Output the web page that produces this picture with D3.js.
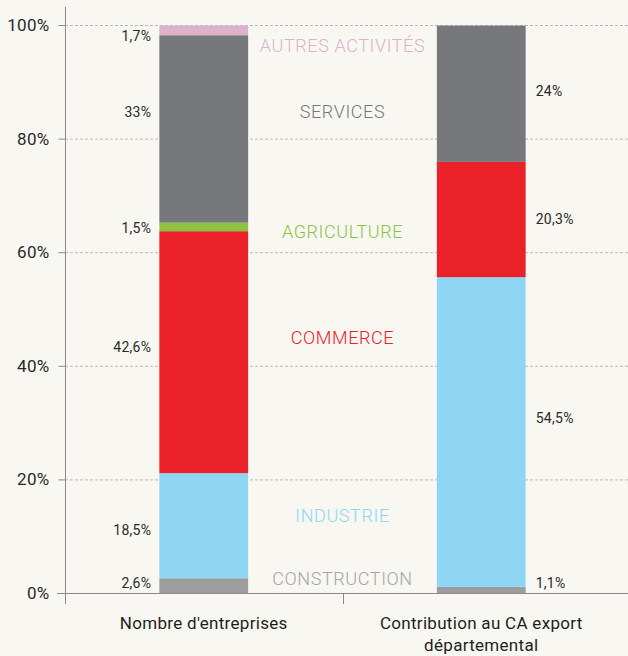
<!DOCTYPE html>
<html>
<head>
<meta charset="utf-8">
<script src="https://cdn.jsdelivr.net/npm/d3@7"></script>
<style>
  html, body { margin: 0; padding: 0; background: #f8f7f1; }
  svg { display: block; font-family: Roboto, "Noto Sans", sans-serif; }
</style>
</head>
<body>
<div id="chart"></div>
<script>
// categories of the x axis (second one spans two lines)
var columns = ["Nombre d'entreprises", "Contribution au CA export départemental"];
var columnLines = [["Nombre d'entreprises"], ["Contribution au CA export", "départemental"]];

// sectors, stacked from bottom to top
var sectors = ["CONSTRUCTION", "INDUSTRIE", "COMMERCE", "AGRICULTURE", "SERVICES", "AUTRES ACTIVITÉS"];
var sectorColors = ["#9d9d9f", "#8fd6f4", "#ea2128", "#8cc43f", "#77787c", "#ddb2cd"];
var labelColors = ["#a5a5a7", "#8fd6f4", "#ea2128", "#8cc43f", "#77787c", "#ddb2cd"];

// share (%) per sector, one value per column
var entreprises = [2.6, 18.5, 42.6, 1.5, 33, 1.7];
var exportCA = [1.1, 54.5, 20.3, 0, 24, 0];

var yTicks = [0, 20, 40, 60, 80, 100];

var width = 628, height = 656;
var margin = {left: 65, right: 8, top: 25, bottom: 63};

var svg = d3.select("#chart").append("svg")
    .attr("width", width)
    .attr("height", height);

svg.append("rect").attr("width", width).attr("height", height).attr("fill", "#f8f7f1");

var x = d3.scaleBand()
    .domain(columns)
    .range([margin.left, width - margin.right])
    .paddingInner(0.68)
    .paddingOuter(0.34);

var y = d3.scaleLinear()
    .domain([0, 100])
    .range([height - margin.bottom, margin.top]);

// one row per column, keyed by sector, for d3.stack
var table = columns.map(function(c, k) {
    var o = {column: c};
    sectors.forEach(function(s, i) { o[s] = (k === 0 ? entreprises : exportCA)[i]; });
    return o;
});
var series = d3.stack().keys(sectors)(table);

var midX = (x(columns[0]) + x.bandwidth() + x(columns[1])) / 2;

// gridlines
svg.append("g")
    .selectAll("line")
    .data(yTicks.filter(function(d) { return d > 0; }))
    .enter().append("line")
    .attr("x1", margin.left)
    .attr("x2", width)
    .attr("y1", function(d) { return y(d) + 0.5; })
    .attr("y2", function(d) { return y(d) + 0.5; })
    .attr("stroke", "#b9b9b9")
    .attr("stroke-dasharray", "3,2");

// baseline
svg.append("line")
    .attr("x1", margin.left - 8).attr("x2", width)
    .attr("y1", y(0) + 0.5).attr("y2", y(0) + 0.5)
    .attr("stroke", "#8a8a8a");

// y axis
var yAxis = svg.append("g")
    .attr("transform", "translate(" + (margin.left + 0.5) + ",0)")
    .call(d3.axisLeft(y).tickValues(yTicks).tickSize(7).tickPadding(9)
        .tickFormat(function(d) { return d + "%"; }));
yAxis.select(".domain").remove();
yAxis.selectAll(".tick line").attr("stroke", "#8a8a8a");
yAxis.selectAll("text")
    .attr("fill", "#2a2a2a")
    .style("font-size", "17px")
    .style("letter-spacing", "0.3px")
    .style("font-family", "Roboto, sans-serif");
yAxis.append("line")
    .attr("y1", 7).attr("y2", y(0) + 11)
    .attr("stroke", "#8a8a8a");

// middle tick on the x axis
svg.append("line")
    .attr("x1", Math.round(midX) + 0.5).attr("x2", Math.round(midX) + 0.5)
    .attr("y1", y(0)).attr("y2", y(0) + 11)
    .attr("stroke", "#8a8a8a");

// bars
svg.append("g")
    .selectAll("g")
    .data(series)
    .enter().append("g")
    .attr("fill", function(d, i) { return sectorColors[i]; })
    .selectAll("rect")
    .data(function(d) { return d; })
    .enter().append("rect")
    .attr("x", function(d) { return x(d.data.column); })
    .attr("width", x.bandwidth())
    .attr("y", function(d) { return y(d[1]); })
    .attr("height", function(d) { return y(d[0]) - y(d[1]); });

// value labels
var valueNudge = [[-3, 5], [4, -14], [-5, 0], [1, 0], [-17, -3], [6, 0]];
function fmt(v) { return String(v).replace(".", ",") + "%"; }

series.forEach(function(s, i) {
    s.forEach(function(d, j) {
        if (d[1] - d[0] <= 0) return;
        var cy = (y(d[0]) + y(d[1])) / 2 + valueNudge[i][j];
        cy = Math.min(cy, y(0) - 10);
        var left = j === 0;
        svg.append("text")
            .attr("x", left ? x(d.data.column) - 8 : x(d.data.column) + x.bandwidth() + 10)
            .attr("y", cy)
            .attr("dy", "0.35em")
            .attr("text-anchor", left ? "end" : "start")
            .attr("fill", "#2a2a2a")
            .style("font-size", "14px")
            .style("letter-spacing", "0.3px")
            .text(fmt(d.data[s.key]));
    });
});

// sector names, between the two bars
var nameNudge = [-7, -10, -14, 5, -17, 15];
series.forEach(function(s, i) {
    var d = s[0];
    var cy = (y(d[0]) + y(d[1])) / 2 + nameNudge[i];
    svg.append("text")
        .attr("x", midX)
        .attr("y", cy)
        .attr("dy", "0.35em")
        .attr("text-anchor", "middle")
        .attr("fill", labelColors[i])
        .style("font-size", "18px")
        .style("font-weight", 300)
        .style("letter-spacing", "0.6px")
        .text(s.key);
});

// column labels
columnLines.forEach(function(lines, i) {
    var cx = x(columns[i]) + x.bandwidth() / 2;
    var t = svg.append("text")
        .attr("x", cx)
        .attr("y", 629)
        .attr("text-anchor", "middle")
        .attr("fill", "#1e1e1e")
        .style("font-size", "17px")
        .style("letter-spacing", "0.3px");
    lines.forEach(function(l, k) {
        t.append("tspan")
            .attr("x", cx)
            .attr("dy", k === 0 ? 0 : 22)
            .text(l);
    });
});
</script>
</body>
</html>
